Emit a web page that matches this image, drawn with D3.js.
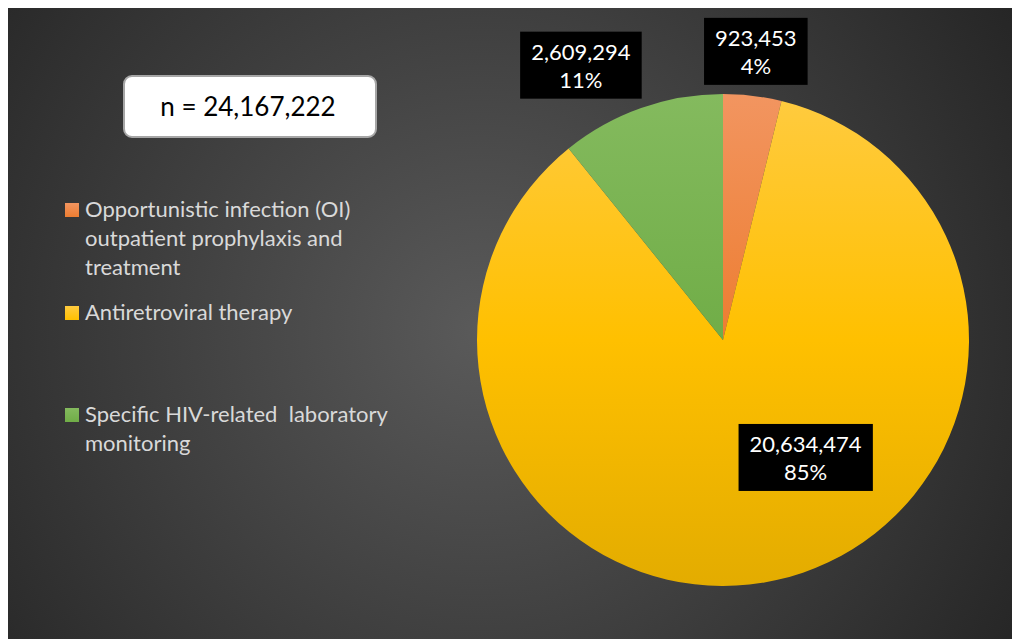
<!DOCTYPE html>
<html>
<head>
<meta charset="utf-8">
<script src="https://cdn.jsdelivr.net/npm/d3@7"></script>
<style>
  html, body { margin: 0; padding: 0; background: #ffffff; }
  svg { display: block; }
  text { white-space: pre; }
</style>
</head>
<body>
<svg id="chart" width="1012" height="639"></svg>
<script>
// ---- Data ----
const categories = [
  "Opportunistic infection (OI) outpatient prophylaxis and treatment",
  "Antiretroviral therapy",
  "Specific HIV-related  laboratory monitoring"
];
const values = [923453, 20634474, 2609294];
const totalLabel = "n = 24,167,222";
const legendLines = [
  ["Opportunistic infection (OI)", "outpatient prophylaxis and", "treatment"],
  ["Antiretroviral therapy"],
  ["Specific HIV-related  laboratory", "monitoring"]
];

// ---- Styles / layout ----
const colors = [
  { top: "#f29560", mid: "#ed7d31", bot: "#d4661c" },
  { top: "#ffcb40", mid: "#ffc000", bot: "#e3ac00" },
  { top: "#84ba5e", mid: "#70ad47", bot: "#5e9a37" }
];
const W = 1012, H = 639;
const cx = 723, cy = 340, R = 246;
// label placement (polar, degrees clockwise from 12 o'clock, radius in px)
const labelPolar = [
  { angle: 6.5, radius: 290 },
  { angle: 145, radius: 144 },
  { angle: -27.4, radius: 309 }
];
const fontFam = "Lato, 'Open Sans', sans-serif";

const svg = d3.select("#chart");
const defs = svg.append("defs");

// background radial gradient
const bg = defs.append("radialGradient").attr("id", "bgGrad")
  .attr("gradientUnits", "userSpaceOnUse")
  .attr("cx", 480).attr("cy", 330).attr("r", 620);
bg.append("stop").attr("offset", 0).attr("stop-color", "#5a5a5a");
bg.append("stop").attr("offset", 1).attr("stop-color", "#262626");

svg.append("rect").attr("x", 8).attr("y", 8).attr("width", W - 8).attr("height", H - 8)
  .attr("fill", "url(#bgGrad)");

// slice gradients (in pie-group coordinates)
colors.forEach((c, i) => {
  const g = defs.append("linearGradient").attr("id", "slice" + i)
    .attr("gradientUnits", "userSpaceOnUse")
    .attr("x1", 0).attr("x2", 0).attr("y1", -R).attr("y2", R);
  g.append("stop").attr("offset", 0).attr("stop-color", c.top);
  g.append("stop").attr("offset", 0.5).attr("stop-color", c.mid);
  g.append("stop").attr("offset", 1).attr("stop-color", c.bot);
});

// pie
const pie = d3.pie().sort(null).value(d => d)(values);
const arc = d3.arc().innerRadius(0).outerRadius(R);
const pg = svg.append("g").attr("transform", `translate(${cx},${cy})`);
pg.selectAll("path").data(pie).join("path")
  .attr("d", arc)
  .attr("fill", (d, i) => `url(#slice${i})`);

// data labels
const total = d3.sum(values);
const fmt = d3.format(",");
pie.forEach((d, i) => {
  const a = labelPolar[i].angle * Math.PI / 180;
  const x = cx + Math.sin(a) * labelPolar[i].radius;
  const y = cy - Math.cos(a) * labelPolar[i].radius;
  const lines = [fmt(values[i]), Math.round(values[i] / total * 100) + "%"];
  const g = svg.append("g").attr("transform", `translate(${x},${y})`);
  const t = g.append("text").attr("text-anchor", "middle")
    .attr("font-family", fontFam).attr("font-size", 22).attr("fill", "#ffffff");
  t.selectAll("tspan").data(lines).join("tspan")
    .attr("x", 0).attr("y", (l, k) => -6 + k * 28).text(l => l);
  const bb = t.node().getBBox();
  g.insert("rect", "text")
    .attr("x", bb.x - 11).attr("y", -34)
    .attr("width", bb.width + 22).attr("height", 67)
    .attr("fill", "#000000");
});

// n box
const nb = svg.append("g");
nb.append("rect").attr("x", 124).attr("y", 76).attr("width", 252).attr("height", 61)
  .attr("rx", 8).attr("fill", "#ffffff").attr("stroke", "#a6a6a6").attr("stroke-width", 2);
nb.append("text").attr("x", 248).attr("y", 116).attr("text-anchor", "middle")
  .attr("font-family", fontFam).attr("font-size", 26).attr("fill", "#000000")
  .text(totalLabel);

// legend
const legendY = [217, 320, 422];
const lg = svg.append("g");
legendLines.forEach((lines, i) => {
  const sg = defs.append("linearGradient").attr("id", "sw" + i)
    .attr("x1", 0).attr("x2", 0).attr("y1", 0).attr("y2", 1);
  sg.append("stop").attr("offset", 0).attr("stop-color", colors[i].top);
  sg.append("stop").attr("offset", 1).attr("stop-color", colors[i].mid);
  lg.append("rect").attr("x", 65).attr("y", legendY[i] - 14).attr("width", 14).attr("height", 14)
    .attr("fill", `url(#sw${i})`);
  const t = lg.append("text").attr("font-family", fontFam).attr("font-size", 22)
    .attr("fill", "#d9d9d9").attr("xml:space", "preserve");
  t.selectAll("tspan").data(lines).join("tspan")
    .attr("x", 85).attr("y", (l, k) => legendY[i] + k * 29).text(l => l);
});
</script>
</body>
</html>
